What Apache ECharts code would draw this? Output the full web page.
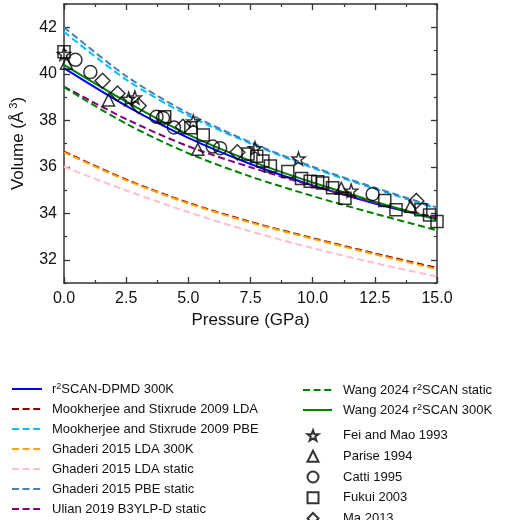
<!DOCTYPE html>
<html><head><meta charset="utf-8">
<script src="https://cdn.jsdelivr.net/npm/echarts@6/dist/echarts.min.js"></script>
<style>html,body{margin:0;padding:0;background:#fff}#c{width:506px;height:520px}</style>
</head><body><div id="c"></div><script>
// ---- data ----
const pressures = [0, 2.5, 5, 7.5, 10, 12.5, 15];
const r2scanDpmd300 = [40.24, 38.62, 37.24, 36.12, 35.20, 34.42, 33.76];
const mookherjeeLda = [36.65, 35.45, 34.45, 33.63, 32.93, 32.27, 31.65];
const mookherjeePbe = [41.80, 39.75, 38.20, 37.00, 35.95, 35.05, 34.20];
const ghaderiLda300 = [36.62, 35.42, 34.42, 33.60, 32.90, 32.23, 31.60];
const ghaderiLdaStatic = [36.00, 34.98, 34.05, 33.22, 32.50, 31.86, 31.27];
const ghaderiPbeStatic = [42.00, 39.90, 38.30, 37.05, 36.00, 35.10, 34.25];
const ulianStatic = [39.45, 38.05, 36.88, 35.98, 35.18, 34.45, 33.80];
const wangStatic = [39.42, 37.85, 36.58, 35.58, 34.74, 33.98, 33.27];
const wang300 = [40.38, 38.80, 37.38, 36.25, 35.32, 34.50, 33.72];

const feiP = [0.0, 2.6, 2.85, 5.2, 7.68, 9.43, 11.55];
const feiV = [40.85, 38.92, 38.98, 37.95, 36.80, 36.35, 34.97];
const pariseP = [0.1, 1.79, 5.38, 11.15, 13.94];
const pariseV = [40.45, 38.87, 36.75, 35.07, 34.30];
const cattiP = [0.46, 1.06, 3.72, 3.98, 4.42, 5.98, 6.28, 12.41];
const cattiV = [40.60, 40.07, 38.15, 38.10, 37.69, 36.87, 36.80, 34.82];
const fukuiP = [0.0, 4.05, 5.10, 5.60, 7.40, 7.75, 8.00, 8.30, 9.00, 9.55, 9.90, 10.20, 10.40, 10.80, 11.30, 12.90, 13.35, 14.35, 14.70, 15.00];
const fukuiV = [40.95, 38.15, 37.68, 37.37, 36.55, 36.45, 36.25, 36.03, 35.80, 35.50, 35.38, 35.35, 35.30, 35.10, 34.65, 34.55, 34.15, 34.15, 33.93, 33.65];
const maP = [1.55, 2.15, 3.00, 4.78, 6.97, 14.17];
const maV = [39.70, 39.15, 38.62, 37.72, 36.62, 34.53];

const xTicks = [0, 2.5, 5, 7.5, 10, 12.5, 15];
const yMajor = [32, 34, 36, 38, 40, 42];
const yMinor = [31, 33, 35, 37, 39, 41, 43];

// ---- chart ----
const FONT = "'Liberation Sans', Arial, Helvetica, sans-serif";
const AX = '#333';
const DASH = [7, 3.6];

function lineSeries(name, values, color, dashed) {
  return {
    type: 'line', name, xAxisIndex: 0, yAxisIndex: 0,
    data: pressures.map((p, i) => [p, values[i]]),
    symbol: 'none', smooth: 0.3, animation: false, silent: true,
    lineStyle: { color, width: 2, type: dashed ? DASH : 'solid' },
    itemStyle: { color }
  };
}
const STAR = 'path://M0,-10L2.35,-3.24L9.51,-3.09L3.8,1.24L5.88,8.09L0,4.2L-5.88,8.09L-3.8,1.24L-9.51,-3.09L-2.35,-3.24Z';
function scatterSeries(name, ps, vs, symbol, size) {
  return {
    type: 'scatter', name, xAxisIndex: 0, yAxisIndex: 0,
    data: ps.map((p, i) => [p, vs[i]]),
    symbol, symbolSize: size, animation: false, silent: true, z: 5,
    itemStyle: { color: 'rgba(0,0,0,0)', borderColor: '#000', borderWidth: 1.5 }
  };
}

const N = {
  dpmd: 'r2SCAN-DPMD 300K',
  mLda: 'Mookherjee and Stixrude 2009 LDA',
  mPbe: 'Mookherjee and Stixrude 2009 PBE',
  gLda300: 'Ghaderi 2015 LDA 300K',
  gLdaS: 'Ghaderi 2015 LDA static',
  gPbeS: 'Ghaderi 2015 PBE static',
  ulian: 'Ulian 2019 B3YLP-D static',
  wangS: 'Wang 2024 r2SCAN static',
  wang3: 'Wang 2024 r2SCAN 300K',
  fei: 'Fei and Mao 1993',
  parise: 'Parise 1994',
  catti: 'Catti 1995',
  fukui: 'Fukui 2003',
  ma: 'Ma 2013'
};

const series = [
  lineSeries(N.dpmd, r2scanDpmd300, '#0000ff', false),
  lineSeries(N.mLda, mookherjeeLda, '#8b0000', true),
  lineSeries(N.mPbe, mookherjeePbe, '#00bfff', true),
  lineSeries(N.gLda300, ghaderiLda300, '#ffa500', true),
  lineSeries(N.gLdaS, ghaderiLdaStatic, '#ffc0cb', true),
  lineSeries(N.gPbeS, ghaderiPbeStatic, '#4682b4', true),
  lineSeries(N.ulian, ulianStatic, '#800080', true),
  lineSeries(N.wangS, wangStatic, '#008000', true),
  lineSeries(N.wang3, wang300, '#008000', false),
  scatterSeries(N.fei, feiP, feiV, STAR, 13),
  scatterSeries(N.parise, pariseP, pariseV, 'triangle', 12),
  scatterSeries(N.catti, cattiP, cattiV, 'circle', 13),
  scatterSeries(N.fukui, fukuiP, fukuiV, 'rect', 12),
  scatterSeries(N.ma, maP, maV, 'diamond', 15)
];

const supRich = {
  s: { fontSize: 9, lineHeight: 8, verticalAlign: 'top', fontFamily: FONT, color: '#111' }
};
const legendFmt = name => name.replace('r2SCAN', 'r{s|2}SCAN');
function legendCfg(data, left, top, itemWidth, itemHeight, itemGap, padLeft, lineH, hideSymbol) {
  const cfg = {
    data, left, top, orient: 'vertical', itemWidth, itemHeight, itemGap,
    padding: 0, height: 200,
    selectedMode: false, formatter: legendFmt,
    textStyle: { fontSize: 13, lineHeight: lineH, color: '#111', fontFamily: FONT, padding: [0, 0, 0, padLeft], rich: supRich }
  };
  if (hideSymbol) {
    cfg.itemStyle = { color: 'rgba(0,0,0,0)', borderColor: 'rgba(0,0,0,0)', borderWidth: 0, opacity: 0 };
  } else {
    cfg.symbolKeepAspect = true;
  }
  return cfg;
}

const xAxisBase = {
  type: 'value', min: 0, max: 15, interval: 2.5,
  axisLine: { show: true, lineStyle: { color: AX, width: 1.5 } },
  axisTick: { show: true, inside: true, length: 6, lineStyle: { color: AX, width: 1.3 } },
  minorTick: { show: true, splitNumber: 2, length: 3, lineStyle: { color: AX, width: 1.2 } },
  splitLine: { show: false }, minorSplitLine: { show: false }
};
const yBase = {
  type: 'value', min: 31, max: 43,
  splitLine: { show: false }, minorSplitLine: { show: false }
};

const option = {
  backgroundColor: '#fff',
  animation: false,
  grid: { left: 60, right: 69, top: 4, bottom: 237 },
  xAxis: [
    Object.assign({}, xAxisBase, {
      position: 'bottom',
      axisLabel: { fontSize: 16, color: '#111', margin: 8, fontFamily: FONT, formatter: v => v.toFixed(1), customValues: xTicks },
      name: 'Pressure (GPa)', nameLocation: 'middle', nameGap: 27,
      nameTextStyle: { fontSize: 17, color: '#111', fontFamily: FONT }
    }),
    Object.assign({}, xAxisBase, { position: 'top', axisLabel: { show: false } })
  ],
  yAxis: [
    Object.assign({}, yBase, {
      position: 'left',
      axisLine: { show: true, lineStyle: { color: AX, width: 1.5 } },
      axisTick: { show: true, inside: true, length: 6, customValues: yMajor, lineStyle: { color: AX, width: 1.3 } },
      axisLabel: { show: true, customValues: yMajor, fontSize: 16, color: '#111', margin: 7, fontFamily: FONT },
      name: '{a|Volume (}{a|Å}{s|3}{a|)}', nameLocation: 'middle', nameGap: 36, nameRotate: 90,
      nameTextStyle: {
        fontSize: 17, color: '#111', fontFamily: FONT,
        rich: {
          a: { fontSize: 17, lineHeight: 20, color: '#111', fontFamily: FONT },
          s: { fontSize: 11, lineHeight: 9, verticalAlign: 'top', padding: [0, 0, 0, 3], color: '#111', fontFamily: FONT }
        }
      }
    }),
    Object.assign({}, yBase, {
      position: 'left',
      axisLine: { show: false },
      axisTick: { show: true, inside: true, length: 3, customValues: yMinor, lineStyle: { color: AX, width: 1.2 } },
      axisLabel: { show: false }
    }),
    Object.assign({}, yBase, {
      position: 'right',
      axisLine: { show: true, lineStyle: { color: AX, width: 1.5 } },
      axisTick: { show: true, inside: true, length: 6, customValues: yMajor, lineStyle: { color: AX, width: 1.3 } },
      axisLabel: { show: false }
    }),
    Object.assign({}, yBase, {
      position: 'right',
      axisLine: { show: false },
      axisTick: { show: true, inside: true, length: 3, customValues: yMinor, lineStyle: { color: AX, width: 1.2 } },
      axisLabel: { show: false }
    })
  ],
  legend: [
    legendCfg([N.dpmd, N.mLda, N.mPbe, N.gLda300, N.gLdaS, N.gPbeS, N.ulian], 11, 382, 30, 14, 6, 5, 14, true),
    legendCfg([N.wangS, N.wang3], 302, 383, 29, 14, 6, 6, 14, true),
    legendCfg([N.fei, N.parise, N.catti, N.fukui, N.ma], 306.5, 429, 11, 11, 7.75, 19.5, 12, false)
  ],
  series
};

const chart = echarts.init(document.getElementById('c'), null, { renderer: 'canvas' });
chart.setOption(option);
</script></body></html>
